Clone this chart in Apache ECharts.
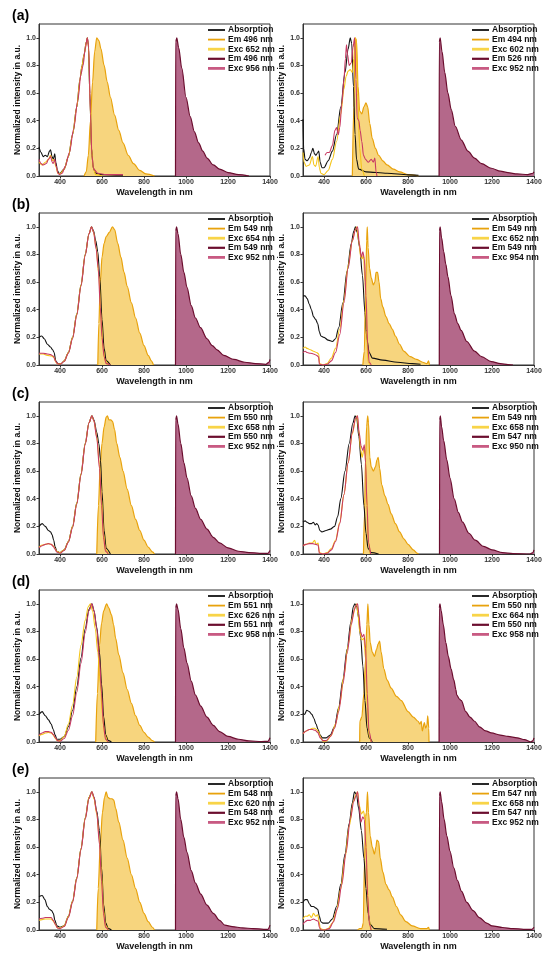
<!DOCTYPE html>
<html>
<head>
<meta charset="utf-8">
<script src="https://cdn.jsdelivr.net/npm/echarts@6/dist/echarts.min.js"></script>
<style>
  html, body { margin: 0; padding: 0; background: #fff; }
  #chart { width: 550px; height: 955px; }
</style>
</head>
<body>
<div id="chart"></div>
<script>
// tick labels
const xTicks = [400, 600, 800, 1000, 1200, 1400];
const yTicks = [0, 0.2, 0.4, 0.6, 0.8, 1.0];
const panelLetters = ["(a)", "(b)", "(c)", "(d)", "(e)"];

// legend texts, one list per panel
const legendA1 = ["Absorption", "Em 496 nm", "Exc 652 nm", "Em 496 nm", "Exc 956 nm"];
const legendA2 = ["Absorption", "Em 494 nm", "Exc 602 nm", "Em 526 nm", "Exc 952 nm"];
const legendB1 = ["Absorption", "Em 549 nm", "Exc 654 nm", "Em 549 nm", "Exc 952 nm"];
const legendB2 = ["Absorption", "Em 549 nm", "Exc 652 nm", "Em 549 nm", "Exc 954 nm"];
const legendC1 = ["Absorption", "Em 550 nm", "Exc 658 nm", "Em 550 nm", "Exc 952 nm"];
const legendC2 = ["Absorption", "Em 549 nm", "Exc 658 nm", "Em 547 nm", "Exc 950 nm"];
const legendD1 = ["Absorption", "Em 551 nm", "Exc 626 nm", "Em 551 nm", "Exc 958 nm"];
const legendD2 = ["Absorption", "Em 550 nm", "Exc 664 nm", "Em 550 nm", "Exc 958 nm"];
const legendE1 = ["Absorption", "Em 548 nm", "Exc 620 nm", "Em 548 nm", "Exc 952 nm"];
const legendE2 = ["Absorption", "Em 547 nm", "Exc 658 nm", "Em 547 nm", "Exc 952 nm"];

// ---- (a) left
const aL_abs = [[300,0.21],[310,0.17],[320,0.14],[330,0.15],[340,0.14],[350,0.18],[355,0.19],[362,0.14],[368,0.12],[375,0.16],[380,0.1],[388,0.04],[395,0.02],[400,0.02],[420,0.05],[440,0.14],[460,0.3],[480,0.5],[495,0.7],[505,0.8],[515,0.88],[525,0.97],[530,1.0],[535,0.95],[542,0.6],[550,0.2],[558,0.06],[570,0.02],[600,0.01],[700,0.005]];
const aL_exc = [[300,0.1],[315,0.08],[330,0.1],[345,0.12],[355,0.15],[365,0.11],[372,0.12],[380,0.07],[390,0.02],[400,0.015],[420,0.05],[440,0.14],[460,0.3],[480,0.5],[495,0.7],[505,0.8],[515,0.88],[525,0.97],[530,1.0],[536,0.93],[543,0.55],[550,0.2],[558,0.06],[570,0.01],[600,0]];
const aL_em = [[515,0],[525,0.03],[535,0.15],[545,0.4],[555,0.68],[565,0.9],[575,1.0],[585,0.98],[595,0.92],[610,0.8],[625,0.68],[640,0.57],[660,0.44],[680,0.33],[700,0.24],[725,0.15],[750,0.09],[780,0.04],[810,0.015],[850,0]];
const aL_nirEm = [[950,0],[951,0.97],[956,1.0],[965,0.93],[980,0.78],[1000,0.57],[1020,0.43],[1040,0.32],[1060,0.24],[1080,0.18],[1100,0.13],[1130,0.08],[1160,0.05],[1200,0.025],[1250,0.01],[1300,0]];
const aL_nirExc = [[300,0.12],[310,0.09],[320,0.08],[335,0.09],[345,0.12],[355,0.14],[363,0.1],[368,0.09],[375,0.12],[382,0.07],[390,0.02],[398,0.01],[410,0.02],[425,0.07],[445,0.17],[465,0.34],[485,0.55],[500,0.74],[510,0.8],[520,0.92],[530,1.0],[537,0.93],[545,0.45],[552,0.15],[560,0.05],[580,0.02],[620,0.01],[700,0.01]];

// ---- (a) right
const aR_abs = [[300,0.41],[303,0.2],[310,0.12],[320,0.11],[330,0.13],[340,0.17],[347,0.2],[355,0.16],[362,0.15],[370,0.17],[375,0.18],[382,0.1],[390,0.06],[400,0.06],[420,0.11],[440,0.18],[460,0.3],[480,0.5],[500,0.75],[515,0.92],[525,1.0],[532,0.96],[540,0.65],[548,0.3],[555,0.12],[565,0.05],[600,0.03],[700,0.02],[800,0.008],[850,0.005]];
const aR_exc = [[300,0.17],[305,0.1],[315,0.07],[330,0.08],[345,0.14],[352,0.08],[360,0.07],[372,0.14],[378,0.06],[385,0.02],[400,0.01],[420,0.04],[440,0.12],[460,0.25],[480,0.45],[495,0.63],[505,0.72],[515,0.76],[525,0.77],[535,0.75],[542,0.85],[548,1.0],[553,0.98],[560,0.6],[570,0.2],[580,0.05],[592,0]];
const aR_em = [[535,0],[542,0.5],[549,1.0],[555,0.98],[562,0.65],[570,0.47],[580,0.45],[590,0.5],[600,0.53],[608,0.5],[618,0.38],[630,0.27],[645,0.2],[660,0.15],[680,0.11],[700,0.08],[730,0.05],[760,0.03],[800,0.01],[850,0]];
const aR_nirEm = [[948,0],[949,0.97],[953,1.0],[962,0.9],[975,0.75],[990,0.6],[1006,0.48],[1025,0.36],[1054,0.26],[1085,0.18],[1117,0.13],[1150,0.09],[1197,0.056],[1240,0.035],[1276,0.024],[1320,0.015],[1370,0.01],[1395,0.02],[1400,0.03]];
const aR_nirExc = [[405,0.15],[415,0.17],[425,0.17],[440,0.22],[452,0.33],[460,0.35],[468,0.3],[475,0.35],[485,0.52],[495,0.7],[502,0.85],[507,0.95],[512,0.88],[520,0.8],[530,0.82],[538,0.93],[546,1.0],[552,0.7],[558,0.42],[566,0.4],[572,0.33],[580,0.25],[588,0.15],[598,0.12],[610,0.1],[625,0.12],[635,0.1],[642,0.13],[648,0.03],[652,0]];

// ---- (b) left
const bL_abs = [[300,0.2],[313,0.21],[325,0.19],[340,0.15],[355,0.13],[365,0.11],[372,0.09],[380,0.03],[390,0.01],[405,0.01],[420,0.03],[440,0.09],[460,0.2],[480,0.37],[500,0.58],[520,0.8],[538,0.95],[550,1.0],[560,0.97],[570,0.9],[580,0.82],[590,0.62],[600,0.33],[610,0.12],[620,0.03],[640,0]];
const bL_exc = [[300,0.08],[320,0.08],[340,0.07],[360,0.065],[372,0.055],[380,0.02],[390,0.008],[405,0.01],[420,0.03],[440,0.09],[460,0.2],[480,0.37],[500,0.58],[520,0.8],[538,0.95],[550,1.0],[560,0.96],[572,0.85],[585,0.65],[595,0.35],[605,0.12],[615,0.03],[630,0]];
const bL_em = [[580,0],[585,0.3],[592,0.6],[600,0.78],[610,0.88],[620,0.93],[635,0.96],[650,1.0],[660,0.98],[675,0.88],[690,0.78],[705,0.67],[720,0.57],[740,0.45],[760,0.34],[780,0.23],[800,0.14],[820,0.07],[835,0.03],[845,0]];
const bL_nirEm = [[950,0],[951,0.97],[955,1.0],[962,0.95],[975,0.8],[990,0.67],[1005,0.56],[1025,0.43],[1045,0.34],[1069,0.27],[1100,0.19],[1125,0.14],[1148,0.11],[1180,0.07],[1228,0.04],[1280,0.02],[1330,0.01],[1380,0.005],[1395,0.02],[1400,0.04]];
const bL_nirExc = [[300,0.085],[320,0.085],[340,0.08],[355,0.075],[368,0.065],[378,0.03],[388,0.01],[400,0.005],[420,0.025],[440,0.085],[460,0.19],[480,0.36],[500,0.57],[520,0.79],[538,0.95],[550,1.0],[560,0.96],[572,0.84],[582,0.7],[592,0.42],[600,0.2],[610,0.06],[620,0.01],[640,0]];

// ---- (b) right
const bR_abs = [[300,0.5],[310,0.5],[320,0.48],[330,0.44],[340,0.4],[350,0.35],[360,0.33],[370,0.3],[378,0.24],[385,0.21],[400,0.2],[420,0.18],[440,0.17],[455,0.19],[470,0.27],[490,0.45],[510,0.68],[530,0.88],[542,0.97],[550,1.0],[558,0.96],[570,0.85],[583,0.65],[595,0.38],[605,0.18],[615,0.09],[630,0.05],[680,0.035],[750,0.02],[820,0.01],[860,0.005]];
const bR_exc = [[300,0.12],[310,0.13],[320,0.12],[335,0.11],[350,0.1],[365,0.09],[375,0.08],[379,0.01],[395,0],[415,0.01],[435,0.05],[455,0.12],[475,0.26],[495,0.47],[515,0.72],[535,0.9],[548,0.97],[556,1.0],[565,0.9],[575,0.78],[582,0.77],[588,0.8],[595,0.6],[602,0.25],[610,0.02],[620,0]];
const bR_em = [[585,0],[592,0.1],[598,0.5],[603,0.9],[606,1.0],[610,0.85],[617,0.7],[625,0.63],[635,0.58],[642,0.6],[648,0.67],[655,0.67],[662,0.6],[670,0.48],[680,0.42],[695,0.35],[710,0.3],[725,0.26],[740,0.21],[760,0.15],[780,0.1],[810,0.06],[840,0.04],[870,0.02],[890,0.01],[898,0.03],[902,0]];
const bR_nirEm = [[949,0],[950,0.97],[953,1.0],[960,0.92],[970,0.82],[980,0.73],[990,0.64],[1005,0.5],[1021,0.37],[1037,0.3],[1053,0.25],[1080,0.17],[1117,0.1],[1150,0.06],[1197,0.025],[1240,0.01],[1276,0.003],[1300,0]];
const bR_nirExc = [[300,0.09],[310,0.1],[320,0.09],[335,0.085],[350,0.08],[365,0.07],[374,0.06],[378,0.005],[395,0],[415,0.005],[435,0.03],[455,0.09],[475,0.22],[495,0.45],[515,0.7],[535,0.9],[550,0.98],[560,1.0],[568,0.88],[578,0.78],[585,0.82],[592,0.77],[600,0.5],[608,0.15],[615,0.02],[625,0]];

// ---- (c) left
const cL_abs = [[300,0.2],[315,0.22],[330,0.2],[345,0.17],[355,0.16],[362,0.14],[370,0.1],[377,0.05],[385,0.02],[400,0.01],[420,0.03],[440,0.09],[460,0.2],[480,0.37],[500,0.58],[520,0.8],[538,0.95],[552,1.0],[562,0.97],[575,0.88],[585,0.8],[593,0.68],[600,0.45],[610,0.17],[620,0.04],[640,0]];
const cL_exc = [[300,0.05],[315,0.065],[330,0.07],[345,0.075],[358,0.07],[368,0.06],[376,0.04],[384,0.02],[400,0.01],[420,0.03],[440,0.09],[460,0.2],[480,0.37],[500,0.58],[520,0.8],[538,0.95],[552,1.0],[562,0.96],[575,0.85],[588,0.65],[598,0.4],[607,0.15],[617,0.03],[630,0]];
const cL_em = [[575,0],[583,0.35],[592,0.65],[600,0.8],[610,0.92],[620,0.99],[626,1.0],[633,0.97],[642,0.97],[650,0.96],[660,0.9],[670,0.8],[685,0.7],[700,0.6],[720,0.47],[740,0.35],[760,0.25],[780,0.17],[800,0.1],[820,0.05],[840,0.015],[850,0]];
const cL_nirEm = [[950,0],[951,0.97],[955,1.0],[962,0.94],[975,0.8],[990,0.66],[1005,0.55],[1025,0.42],[1045,0.33],[1070,0.25],[1100,0.18],[1130,0.12],[1160,0.08],[1200,0.045],[1250,0.02],[1300,0.01],[1350,0.005],[1390,0.005],[1400,0.025]];
const cL_nirExc = [[300,0.045],[315,0.06],[330,0.07],[345,0.075],[358,0.07],[368,0.055],[376,0.035],[384,0.015],[400,0.005],[420,0.025],[440,0.085],[460,0.19],[480,0.36],[500,0.57],[520,0.79],[538,0.95],[552,1.0],[562,0.96],[575,0.84],[588,0.62],[598,0.35],[607,0.12],[617,0.02],[630,0]];

// ---- (c) right
const cR_abs = [[300,0.23],[310,0.24],[320,0.23],[330,0.22],[340,0.22],[350,0.23],[358,0.21],[365,0.22],[372,0.21],[380,0.17],[390,0.16],[410,0.17],[430,0.18],[450,0.2],[465,0.27],[480,0.4],[500,0.6],[520,0.8],[538,0.95],[548,1.0],[556,0.98],[566,0.85],[578,0.65],[590,0.35],[600,0.15],[610,0.04],[625,0.01],[660,0]];
const cR_exc = [[300,0.06],[315,0.07],[330,0.08],[345,0.08],[355,0.1],[362,0.07],[372,0.08],[378,0.01],[395,0],[415,0.01],[435,0.04],[455,0.1],[475,0.23],[495,0.43],[515,0.66],[535,0.87],[550,0.97],[558,1.0],[565,0.9],[575,0.75],[582,0.7],[590,0.76],[597,0.72],[603,0.45],[610,0.1],[620,0]];
const cR_em = [[588,0],[593,0.3],[598,0.7],[603,0.92],[608,1.0],[612,0.95],[618,0.7],[625,0.63],[635,0.6],[645,0.63],[652,0.68],[658,0.7],[665,0.62],[675,0.5],[690,0.42],[705,0.36],[720,0.29],[740,0.22],[760,0.16],[780,0.11],[800,0.07],[825,0.03],[845,0.005],[850,0]];
const cR_nirEm = [[950,0],[951,0.97],[954,1.0],[960,0.92],[970,0.82],[985,0.68],[1000,0.55],[1020,0.4],[1040,0.3],[1060,0.23],[1090,0.15],[1120,0.1],[1160,0.055],[1200,0.03],[1250,0.01],[1300,0.003],[1380,0],[1395,0.01],[1400,0.03]];
const cR_nirExc = [[300,0.06],[315,0.07],[330,0.075],[345,0.075],[360,0.07],[372,0.065],[378,0.005],[395,0],[415,0.005],[435,0.03],[455,0.09],[475,0.22],[495,0.43],[515,0.66],[535,0.88],[550,0.98],[560,1.0],[567,0.88],[577,0.78],[585,0.75],[592,0.79],[598,0.66],[605,0.35],[612,0.08],[622,0]];

// ---- (d) left
const dL_abs = [[300,0.2],[315,0.22],[330,0.19],[345,0.16],[358,0.13],[368,0.09],[377,0.05],[385,0.02],[400,0.02],[420,0.04],[440,0.11],[460,0.23],[480,0.4],[500,0.61],[520,0.82],[538,0.96],[552,1.0],[562,0.95],[575,0.83],[588,0.65],[598,0.42],[608,0.18],[618,0.05],[630,0.01],[645,0]];
const dL_exc = [[300,0.045],[315,0.055],[330,0.065],[345,0.07],[358,0.065],[368,0.05],[378,0.025],[388,0.01],[400,0.01],[420,0.04],[440,0.13],[460,0.27],[480,0.47],[500,0.7],[520,0.88],[535,0.98],[545,1.0],[555,0.95],[568,0.82],[580,0.65],[592,0.42],[602,0.2],[612,0.06],[625,0]];
const dL_em = [[570,0],[578,0.35],[588,0.7],[598,0.86],[608,0.95],[622,1.0],[632,0.97],[645,0.92],[655,0.85],[665,0.75],[680,0.63],[700,0.5],[720,0.38],[740,0.28],[760,0.19],[780,0.12],[800,0.07],[820,0.035],[840,0.01],[850,0]];
const dL_nirEm = [[950,0],[951,0.97],[955,1.0],[962,0.96],[975,0.82],[990,0.68],[1005,0.57],[1025,0.44],[1045,0.34],[1070,0.26],[1100,0.18],[1130,0.12],[1160,0.075],[1200,0.04],[1250,0.02],[1300,0.008],[1360,0.003],[1390,0.005],[1400,0.03]];
const dL_nirExc = [[300,0.05],[315,0.065],[330,0.075],[345,0.075],[358,0.07],[368,0.055],[378,0.03],[388,0.01],[400,0.005],[420,0.025],[440,0.085],[460,0.19],[480,0.36],[500,0.57],[520,0.79],[538,0.95],[552,1.0],[562,0.95],[575,0.82],[588,0.6],[598,0.35],[607,0.12],[617,0.02],[630,0]];

// ---- (d) right
const dR_abs = [[300,0.21],[308,0.2],[318,0.23],[330,0.22],[342,0.2],[352,0.17],[362,0.13],[372,0.09],[382,0.05],[392,0.03],[410,0.03],[430,0.05],[450,0.11],[470,0.25],[490,0.45],[510,0.67],[528,0.87],[540,0.98],[547,1.0],[556,0.98],[565,0.9],[575,0.75],[585,0.55],[595,0.3],[605,0.1],[615,0.03],[630,0]];
const dR_exc = [[300,0.06],[315,0.08],[330,0.09],[345,0.1],[355,0.1],[365,0.09],[375,0.07],[385,0.03],[398,0],[415,0.01],[435,0.05],[455,0.13],[475,0.27],[495,0.48],[515,0.7],[535,0.9],[550,0.98],[556,1.0],[562,0.92],[570,0.8],[580,0.74],[590,0.75],[598,0.6],[606,0.25],[615,0.04],[625,0]];
const dR_em = [[570,0],[570.5,0.15],[580,0.18],[590,0.35],[598,0.6],[604,0.85],[609,1.0],[614,0.85],[620,0.72],[630,0.65],[640,0.62],[650,0.67],[658,0.71],[665,0.73],[672,0.65],[685,0.53],[700,0.45],[720,0.39],[745,0.33],[768,0.3],[800,0.22],[825,0.18],[848,0.15],[857,0.13],[863,0.15],[868,0.08],[878,0.14],[884,0.1],[890,0.12],[894,0.19],[899,0.1],[900,0]];
const dR_nirEm = [[948,0],[949,0.97],[952,1.0],[958,0.95],[968,0.85],[980,0.72],[992,0.62],[1005,0.53],[1018,0.45],[1028,0.38],[1032,0.34],[1045,0.31],[1054,0.3],[1075,0.22],[1095,0.18],[1117,0.15],[1140,0.11],[1170,0.08],[1197,0.066],[1240,0.05],[1276,0.04],[1320,0.03],[1355,0.017],[1385,0],[1395,0.01],[1400,0.03]];
const dR_nirExc = [[300,0.06],[315,0.08],[330,0.09],[345,0.09],[358,0.085],[370,0.07],[382,0.03],[395,0.01],[410,0.01],[430,0.04],[450,0.1],[470,0.22],[490,0.42],[510,0.64],[530,0.85],[545,0.96],[553,0.99],[560,1.0],[566,0.93],[574,0.8],[582,0.76],[590,0.78],[598,0.68],[606,0.35],[614,0.08],[625,0]];

// ---- (e) left
const eL_abs = [[300,0.24],[315,0.25],[328,0.22],[340,0.17],[350,0.15],[360,0.14],[368,0.12],[376,0.07],[385,0.03],[400,0.02],[420,0.03],[440,0.1],[460,0.21],[480,0.38],[500,0.59],[520,0.81],[538,0.96],[552,1.0],[562,0.96],[575,0.86],[588,0.72],[598,0.45],[608,0.18],[618,0.05],[630,0.01],[645,0]];
const eL_exc = [[300,0.07],[315,0.075],[330,0.08],[345,0.08],[358,0.08],[368,0.065],[378,0.04],[388,0.015],[400,0.015],[420,0.03],[440,0.1],[460,0.21],[480,0.38],[500,0.59],[520,0.81],[538,0.96],[552,1.0],[562,0.95],[575,0.84],[588,0.65],[598,0.4],[607,0.15],[617,0.03],[630,0]];
const eL_em = [[575,0],[582,0.3],[592,0.62],[602,0.85],[612,0.96],[620,1.0],[628,0.96],[638,0.95],[648,0.95],[656,0.94],[665,0.88],[680,0.78],[700,0.65],[720,0.52],[740,0.4],[760,0.3],[780,0.2],[800,0.12],[820,0.06],[840,0.02],[850,0]];
const eL_nirEm = [[950,0],[951,0.97],[955,1.0],[962,0.95],[975,0.8],[990,0.67],[1005,0.56],[1025,0.43],[1045,0.34],[1070,0.26],[1100,0.18],[1130,0.12],[1160,0.07],[1185,0.035],[1220,0.025],[1270,0.015],[1320,0.01],[1370,0.005],[1390,0.005],[1400,0.035]];
const eL_nirExc = [[300,0.08],[315,0.085],[330,0.09],[345,0.09],[358,0.09],[368,0.07],[378,0.04],[388,0.015],[400,0.01],[420,0.025],[440,0.09],[460,0.2],[480,0.37],[500,0.58],[520,0.8],[538,0.95],[552,1.0],[562,0.96],[575,0.85],[588,0.62],[598,0.35],[607,0.12],[617,0.02],[630,0]];

// ---- (e) right
const eR_abs = [[300,0.2],[310,0.22],[320,0.22],[330,0.19],[340,0.17],[350,0.17],[360,0.16],[370,0.15],[378,0.1],[385,0.06],[395,0.05],[420,0.05],[440,0.08],[460,0.17],[480,0.33],[500,0.55],[520,0.77],[535,0.92],[545,1.0],[555,0.98],[565,0.88],[578,0.72],[590,0.52],[600,0.3],[610,0.12],[620,0.04],[640,0.01],[700,0.005]];
const eR_exc = [[300,0.08],[310,0.1],[320,0.1],[330,0.11],[340,0.09],[350,0.12],[360,0.1],[370,0.11],[377,0.06],[382,0.01],[400,0],[420,0.01],[440,0.05],[460,0.14],[480,0.3],[500,0.52],[520,0.75],[540,0.93],[552,0.98],[560,1.0],[568,0.9],[578,0.84],[588,0.86],[596,0.8],[604,0.45],[612,0.1],[622,0]];
const eR_em = [[560,0],[570,0.01],[580,0.01],[587,0.05],[593,0.5],[598,0.82],[602,0.85],[607,1.0],[612,0.85],[620,0.68],[630,0.6],[640,0.55],[647,0.6],[652,0.65],[660,0.64],[668,0.52],[680,0.42],[695,0.33],[710,0.29],[725,0.24],[745,0.17],[765,0.11],[790,0.06],[820,0.03],[860,0.01],[890,0.01],[898,0.02],[902,0]];
const eR_nirEm = [[949,0],[950,0.97],[953,1.0],[960,0.93],[972,0.8],[985,0.68],[1000,0.57],[1018,0.45],[1035,0.36],[1055,0.28],[1080,0.2],[1110,0.14],[1140,0.09],[1175,0.05],[1200,0.03],[1250,0.018],[1300,0.01],[1350,0.005],[1390,0.005],[1400,0.02]];
const eR_nirExc = [[300,0.04],[310,0.06],[320,0.07],[335,0.07],[350,0.08],[362,0.07],[372,0.065],[378,0.02],[385,0],[405,0],[425,0.01],[445,0.06],[465,0.16],[485,0.33],[505,0.56],[525,0.8],[542,0.93],[552,0.97],[560,1.0],[567,0.9],[576,0.78],[585,0.82],[592,0.8],[600,0.6],[608,0.25],[616,0.04],[625,0]];

const panels = [
  { row: 0, col: 0, legend: legendA1, abs: aL_abs, exc: aL_exc, em: aL_em, nirEm: aL_nirEm, nirExc: aL_nirExc },
  { row: 0, col: 1, legend: legendA2, abs: aR_abs, exc: aR_exc, em: aR_em, nirEm: aR_nirEm, nirExc: aR_nirExc },
  { row: 1, col: 0, legend: legendB1, abs: bL_abs, exc: bL_exc, em: bL_em, nirEm: bL_nirEm, nirExc: bL_nirExc },
  { row: 1, col: 1, legend: legendB2, abs: bR_abs, exc: bR_exc, em: bR_em, nirEm: bR_nirEm, nirExc: bR_nirExc },
  { row: 2, col: 0, legend: legendC1, abs: cL_abs, exc: cL_exc, em: cL_em, nirEm: cL_nirEm, nirExc: cL_nirExc },
  { row: 2, col: 1, legend: legendC2, abs: cR_abs, exc: cR_exc, em: cR_em, nirEm: cR_nirEm, nirExc: cR_nirExc },
  { row: 3, col: 0, legend: legendD1, abs: dL_abs, exc: dL_exc, em: dL_em, nirEm: dL_nirEm, nirExc: dL_nirExc },
  { row: 3, col: 1, legend: legendD2, abs: dR_abs, exc: dR_exc, em: dR_em, nirEm: dR_nirEm, nirExc: dR_nirExc },
  { row: 4, col: 0, legend: legendE1, abs: eL_abs, exc: eL_exc, em: eL_em, nirEm: eL_nirEm, nirExc: eL_nirExc },
  { row: 4, col: 1, legend: legendE2, abs: eR_abs, exc: eR_exc, em: eR_em, nirEm: eR_nirEm, nirExc: eR_nirExc }
];

// layout
const rowTops = [24, 213, 402, 590, 778];
const colLefts = [39, 303];
const plotW = 231;
const plotH = 152;
const FONT = '"Liberation Sans", Arial, sans-serif';

// colours, in legend order
const C_ABS = "#111111";
const C_EM = "#E8A20C";
const C_EM_FILL = "#F7D57E";
const C_EXC = "#F5C518";
const C_NIR = "#6B0D2E";
const C_NIR_FILL = "#B4688A";
const C_NIREXC = "#C83A63";
const legendLook = [
  { color: C_ABS, width: 1.8 },
  { color: C_EM, width: 1.8 },
  { color: "#F8D448", width: 2.8 },
  { color: C_NIR, width: 2.2 },
  { color: "#C85A82", width: 2.8 }
];

function line(idx, data, color, width, fill, z) {
  const s = {
    type: "line",
    xAxisIndex: idx,
    yAxisIndex: idx,
    data: data,
    symbol: "none",
    smooth: 0.3,
    smoothMonotone: "x",
    lineStyle: { color: color, width: width },
    itemStyle: { color: color },
    z: z,
    silent: true
  };
  if (fill) s.areaStyle = { color: fill, opacity: 1 };
  return s;
}

const grids = [], xAxes = [], yAxes = [], series = [], graphics = [];

panels.forEach((p, i) => {
  const left = colLefts[p.col];
  const top = rowTops[p.row];
  grids.push({ left: left, top: top, width: plotW, height: plotH, show: true, borderColor: "#333", borderWidth: 1, backgroundColor: "transparent" });
  xAxes.push({
    type: "value", gridIndex: i, min: 300, max: 1400,
    name: "Wavelength in nm", nameLocation: "middle", nameGap: 12,
    nameTextStyle: { fontFamily: FONT, fontWeight: "bold", fontSize: 9, color: "#111" },
    axisLine: { show: true, lineStyle: { color: "#333", width: 1 } },
    axisTick: { show: true, length: 2.5, customValues: xTicks, lineStyle: { color: "#333" } },
    axisLabel: { customValues: xTicks, formatter: v => String(v), fontFamily: FONT, fontWeight: "bold", fontSize: 7, color: "#333", margin: 3 },
    splitLine: { show: false }
  });
  yAxes.push({
    type: "value", gridIndex: i, min: 0, max: 1.1,
    name: "Normalized intensity in a.u.", nameLocation: "middle", nameGap: 13, nameRotate: 90,
    nameTextStyle: { fontFamily: FONT, fontWeight: "bold", fontSize: 8.5, color: "#111" },
    axisLine: { show: true, lineStyle: { color: "#333", width: 1 } },
    axisTick: { show: true, length: 2.5, customValues: yTicks, lineStyle: { color: "#333" } },
    axisLabel: { customValues: yTicks, formatter: v => v.toFixed(1), fontFamily: FONT, fontWeight: "bold", fontSize: 7, color: "#333", margin: 3 },
    splitLine: { show: false }
  });

  series.push(line(i, p.em, C_EM, 1.2, C_EM_FILL, 1));
  series.push(line(i, p.nirEm, C_NIR, 1.2, C_NIR_FILL, 1));
  series.push(line(i, p.abs, C_ABS, 1.1, null, 2));
  series.push(line(i, p.exc, C_EXC, 1.1, null, 3));
  series.push(line(i, p.nirExc, C_NIREXC, 1.1, null, 4));

  // legend drawn by hand, because the two emission traces share a name
  p.legend.forEach((txt, k) => {
    const y = top + 6 + k * 9.6;
    graphics.push({
      type: "line", silent: true, z: 50,
      shape: { x1: left + 169, y1: y, x2: left + 186, y2: y },
      style: { stroke: legendLook[k].color, lineWidth: legendLook[k].width }
    });
    graphics.push({
      type: "text", silent: true, z: 50, x: left + 189, y: y,
      style: { text: txt, fill: "#111", font: "bold 8.5px " + FONT, textAlign: "left", textVerticalAlign: "middle", verticalAlign: "middle" }
    });
  });
});

panelLetters.forEach((t, r) => {
  graphics.push({
    type: "text", silent: true, x: 12, y: rowTops[r] - 8,
    style: { text: t, fill: "#000", font: "bold 14px " + FONT, textAlign: "left", textVerticalAlign: "middle", verticalAlign: "middle" }
  });
});

const chart = echarts.init(document.getElementById("chart"), null, { renderer: "canvas" });
chart.setOption({
  animation: false,
  backgroundColor: "#fff",
  grid: grids,
  xAxis: xAxes,
  yAxis: yAxes,
  series: series,
  graphic: graphics
});
</script>
</body>
</html>
